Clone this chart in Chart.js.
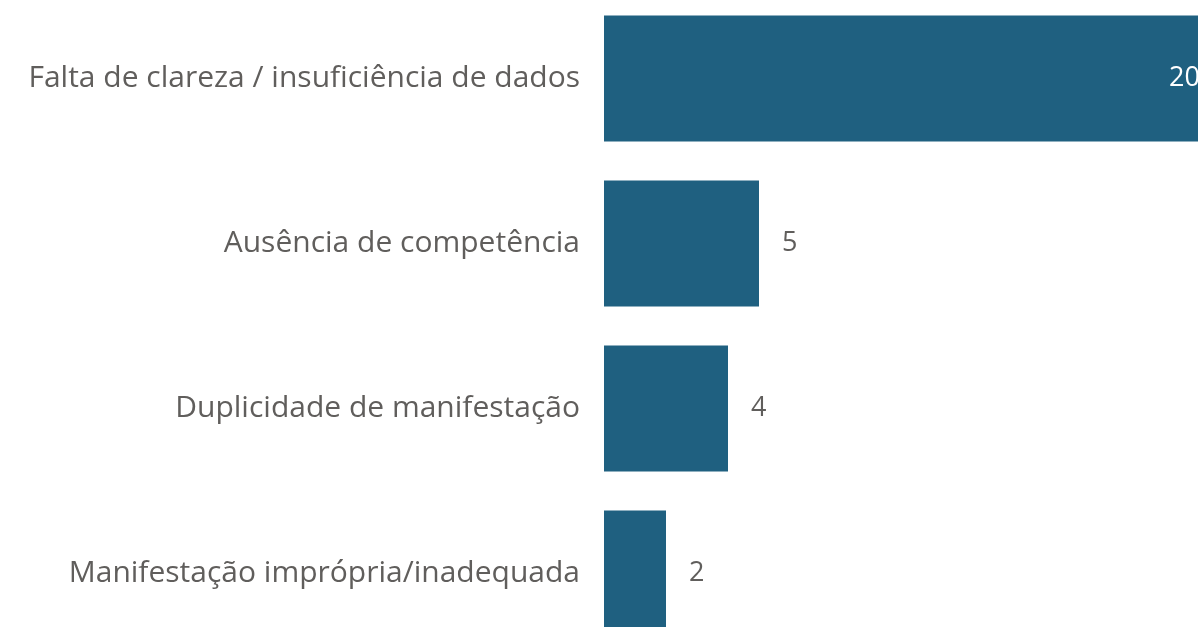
<!DOCTYPE html>
<html lang="pt">
<head>
    <meta charset="UTF-8">
    <title>Motivos de arquivamento</title>
    <script src="https://cdn.jsdelivr.net/npm/chart.js"></script>
    <style>
        html, body { margin: 0; padding: 0; background: #ffffff; overflow: hidden; }
        body { width: 1198px; height: 627px; position: relative; }
        #motivos { position: absolute; left: 0; top: -4px; }
    </style>
</head>
<body>
    <canvas id="motivos" width="1224" height="660"></canvas>
    <script>
        const categories = [
            'Falta de clareza / insuficiência de dados',
            'Ausência de competência',
            'Duplicidade de manifestação',
            'Manifestação imprópria/inadequada'
        ];
        const values = [20, 5, 4, 2];

        const barColor = '#1f6080';
        const textColor = '#605e5c';
        const fontFamily = "'Open Sans', 'Noto Sans', sans-serif";

        // value labels: outside the bar end, or inside in white when the bar is too long
        const valueLabels = {
            id: 'valueLabels',
            afterDatasetsDraw(chart) {
                const ctx = chart.ctx;
                const meta = chart.getDatasetMeta(0);
                ctx.save();
                ctx.font = '27px ' + fontFamily;
                ctx.textBaseline = 'middle';
                meta.data.forEach((bar, i) => {
                    const text = String(values[i]);
                    const w = ctx.measureText(text).width;
                    if (bar.x + 24 + w > chart.chartArea.right) {
                        ctx.fillStyle = '#ffffff';
                        ctx.textAlign = 'right';
                        ctx.fillText(text, bar.x - 24, bar.y);
                    } else {
                        ctx.fillStyle = textColor;
                        ctx.textAlign = 'left';
                        ctx.fillText(text, bar.x + 23, bar.y);
                    }
                });
                ctx.restore();
            }
        };

        const ctx = document.getElementById('motivos').getContext('2d');
        new Chart(ctx, {
            type: 'bar',
            data: {
                labels: categories,
                datasets: [{
                    data: values,
                    backgroundColor: barColor,
                    borderWidth: 0,
                    categoryPercentage: 1,
                    barPercentage: 0.764
                }]
            },
            options: {
                indexAxis: 'y',
                responsive: false,
                animation: false,
                layout: { padding: 0 },
                scales: {
                    x: {
                        display: false,
                        min: 0,
                        max: 20
                    },
                    y: {
                        grid: { display: false, drawTicks: false },
                        border: { display: false },
                        ticks: {
                            color: textColor,
                            padding: 24,
                            font: { family: fontFamily, size: 30 }
                        },
                        afterFit(scale) {
                            // fixed axis width so the bars start at x = 604
                            scale.width = 604;
                            scale.paddingTop = 0;
                            scale.paddingBottom = 0;
                        }
                    }
                },
                plugins: {
                    legend: { display: false },
                    tooltip: { enabled: false }
                }
            },
            plugins: [valueLabels]
        });
    </script>
</body>
</html>
